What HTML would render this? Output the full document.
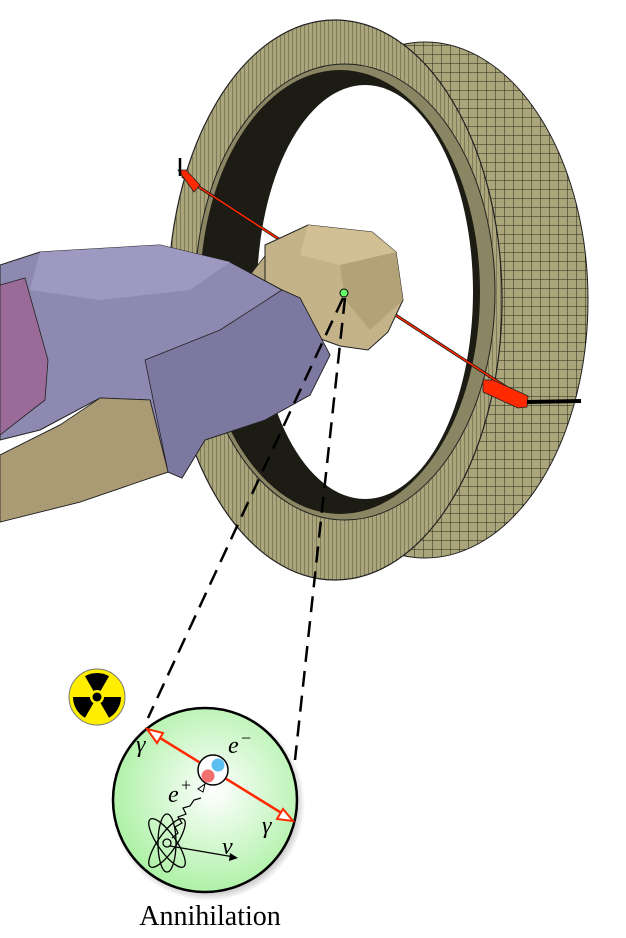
<!DOCTYPE html>
<html><head><meta charset="utf-8"><style>
html,body{margin:0;padding:0;background:#fff;}
svg{display:block;}
</style></head><body>
<svg width="626" height="938" viewBox="0 0 626 938" xmlns="http://www.w3.org/2000/svg">
<defs>
<pattern id="str" width="4" height="4" patternUnits="userSpaceOnUse">
<rect width="4" height="4" fill="#aaa57a"/><line x1="0" y1="0" x2="0" y2="4" stroke="#3b3a28" stroke-width="0.8"/>
</pattern>
<pattern id="grid" width="9" height="9" patternUnits="userSpaceOnUse">
<rect width="9" height="9" fill="#aaa57a"/><path d="M0 0H9M0 0V9" stroke="#2a2a1c" stroke-width="1"/>
</pattern>
<radialGradient id="g" cx="0.55" cy="0.45" r="0.6">
<stop offset="0" stop-color="#ffffff"/><stop offset="1" stop-color="#a8f0a0"/>
</radialGradient>
<radialGradient id="sh" cx="0.5" cy="0.5" r="0.5">
<stop offset="0.85" stop-color="#000" stop-opacity="0.35"/><stop offset="1" stop-color="#000" stop-opacity="0"/>
</radialGradient>
</defs>

<ellipse cx="425" cy="300" rx="163" ry="258" fill="url(#grid)" stroke="#222" stroke-width="1"/>
<ellipse cx="335" cy="300" rx="167" ry="280" fill="url(#str)" stroke="#222" stroke-width="1.2"/>
<ellipse cx="345" cy="292" rx="150" ry="228" fill="#8a8562" stroke="#222" stroke-width="1"/>
<ellipse cx="340" cy="292" rx="140" ry="222" fill="#1c1c14"/>
<ellipse cx="365" cy="292" rx="108" ry="207" fill="#fff"/>

<line x1="182" y1="176" x2="526" y2="400" stroke="#111" stroke-width="3"/>
<line x1="182" y1="176" x2="526" y2="400" stroke="#ff2a00" stroke-width="1.6"/>
<polygon points="178,170 186,170 200,185 194,192" fill="#ff2a00" stroke="#222" stroke-width="0.8"/>
<polygon points="483,380 493,380 528,396 527,407 518,408 483,392" fill="#ff2a00" stroke="#222" stroke-width="0.8"/>
<line x1="527" y1="402" x2="581" y2="401" stroke="#000" stroke-width="4"/>
<line x1="180" y1="158" x2="180" y2="176" stroke="#000" stroke-width="2.5"/>

<polygon points="0,455 60,425 150,388 182,380 205,430 190,465 150,478 80,502 0,522" fill="#b0a07a" stroke="#222" stroke-width="1"/>
<polygon points="60,425 150,388 160,440 80,470" fill="#c2b189"/>
<polygon points="250,275 268,252 290,258 285,300 262,300" fill="#b8a880" stroke="#222" stroke-width="0.8"/>
<polygon points="265,245 308,225 372,232 396,252 403,300 388,332 368,350 340,346 318,338 298,322 265,290" fill="#c4b288" stroke="#222" stroke-width="1"/>
<polygon points="308,225 372,232 396,252 340,265 300,255" fill="#d2c094"/>
<polygon points="340,265 396,252 403,300 370,330 345,300" fill="#b3a178"/>
<polygon points="0,265 40,252 160,245 230,262 282,290 300,298 330,355 310,395 265,420 205,440 182,478 168,472 150,400 100,398 40,430 0,440" fill="#8e89b0" stroke="#222" stroke-width="1"/>
<polygon points="40,252 160,245 230,262 190,290 100,300 30,290" fill="#9e99c0"/>
<polygon points="145,360 220,330 282,290 300,298 330,355 310,395 265,420 205,440 182,478 168,472" fill="#7d789f" stroke="#222" stroke-width="0.8"/>
<polygon points="0,285 25,278 48,360 45,400 0,435" fill="#9a6a98" stroke="#222" stroke-width="0.8"/>
<polygon points="100,398 150,400 168,472 150,478 80,502 0,522 0,455 60,425" fill="#ab9b74" stroke="#222" stroke-width="0.8"/>

<circle cx="344" cy="293" r="4" fill="#6f6" stroke="#000" stroke-width="1"/>

<line x1="343" y1="298" x2="148" y2="718" stroke="#000" stroke-width="2.5" stroke-dasharray="16,9"/>
<line x1="345" y1="298" x2="295" y2="760" stroke="#000" stroke-width="2.5" stroke-dasharray="16,9"/>

<circle cx="97" cy="697" r="28" fill="#ffee00" stroke="#777" stroke-width="1"/>
<g fill="#000" transform="translate(97,697)">
<path d="M0 0 L-12 -20.8 A24 24 0 0 1 12 -20.8 Z"/>
<path d="M0 0 L24 0 A24 24 0 0 1 12 20.8 Z"/>
<path d="M0 0 L-12 20.8 A24 24 0 0 1 -24 0 Z"/>
<circle r="7" fill="#ffee00"/><circle r="4.5"/>
</g>

<circle cx="208" cy="804" r="97" fill="url(#sh)"/>
<circle cx="205" cy="800" r="92" fill="url(#g)" stroke="#000" stroke-width="2.5"/>
<line x1="152" y1="733" x2="288" y2="817" stroke="#ff2a00" stroke-width="2.5"/>
<polygon points="147,729 163,733 157,743" fill="#fff" stroke="#ff2a00" stroke-width="2"/>
<polygon points="293,821 277,819 283,809" fill="#fff" stroke="#ff2a00" stroke-width="2"/>
<circle cx="213" cy="770" r="15" fill="#fff" stroke="#000" stroke-width="1.5"/>
<circle cx="218" cy="765" r="6.5" fill="#5bc0f0"/>
<circle cx="208" cy="776" r="6.5" fill="#f07070"/>
<path d="M172 838 l6 -5 -3 -6 7 -4 -4 -6 8 -3 -3 -6 7 -2 4 -6 7 -2" fill="none" stroke="#000" stroke-width="1.2"/>
<polygon points="205,784 203,792 198,789" fill="#fff" stroke="#000" stroke-width="1"/>
<g fill="none" stroke="#000" stroke-width="1.3">
<ellipse cx="167" cy="843" rx="9" ry="29" transform="rotate(-35 167 843)"/>
<ellipse cx="167" cy="843" rx="9" ry="29" transform="rotate(35 167 843)"/>
<ellipse cx="167" cy="843" rx="9" ry="29"/>
<circle cx="167" cy="843" r="4"/>
<line x1="170" y1="846" x2="234" y2="857"/>
</g>
<polygon points="238,858 229,861 230,853" fill="#000"/>
<g font-family="'Liberation Serif',serif" font-style="italic" font-size="24">
<text x="228" y="753">e</text><text x="241" y="744" font-size="18" font-style="normal">−</text>
<text x="168" y="802">e</text><text x="181" y="791" font-size="18" font-style="normal">+</text>
<text x="136" y="752">γ</text><text x="262" y="833">γ</text>
<text x="222" y="854">ν</text>
</g>
<text x="210" y="925" text-anchor="middle" font-family="'Liberation Serif',serif" font-size="28">Annihilation</text>
</svg>
</body></html>
